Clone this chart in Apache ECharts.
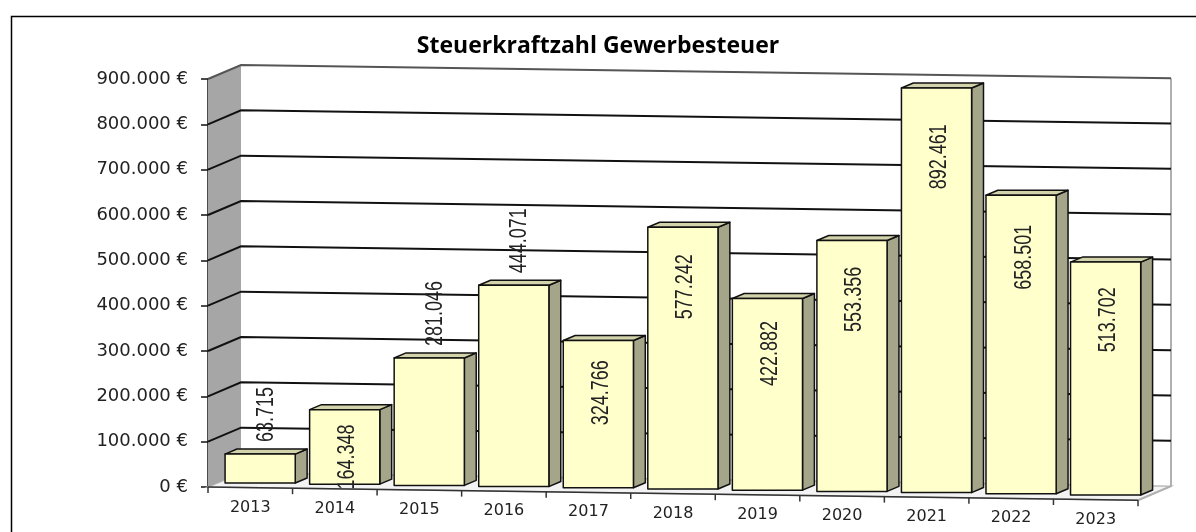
<!DOCTYPE html>
<html>
<head>
<meta charset="utf-8">
<script src="https://cdn.jsdelivr.net/npm/echarts@6/dist/echarts.min.js"></script>
<style>
  html, body { margin: 0; padding: 0; background: #fff; }
  #chart { width: 1196px; height: 532px; }
</style>
</head>
<body>
<div id="chart"></div>
<script>
var years = ['2013', '2014', '2015', '2016', '2017', '2018', '2019', '2020', '2021', '2022', '2023'];
var values = [63715, 164348, 281046, 444071, 324766, 577242, 422882, 553356, 892461, 658501, 513702];
var yTicks = [0, 100000, 200000, 300000, 400000, 500000, 600000, 700000, 800000, 900000];
// labels Excel put above the bar instead of inside it
var labelAbove = [true, false, true, true, false, false, false, false, false, false, false];

// fake 3D: depth vector of the walls and a slight slope to the right
var DX = 33, DY = -14, SLOPE = 0.0142;
var BAR_D0 = 0.33, BAR_D1 = 0.69;

function fmt(v) {
    return String(v).replace(/\B(?=(\d{3})+(?!\d))/g, '.');
}

function renderWall(params, api) {
    var v = api.value(0);
    var band = api.size([1, 0])[0];
    var p0 = api.coord([0, 0]);
    var x0 = p0[0] - band / 2;
    var x1 = x0 + band * years.length;
    var y0 = p0[1];
    var yTop = api.coord([0, yTicks[yTicks.length - 1]])[1];
    var yv = api.coord([0, v])[1];
    function P(x, y, d) { return [x + d * DX, y + d * DY + SLOPE * (x - x0)]; }

    var children = [];
    if (params.dataIndex === 0) {
        children.push({
            type: 'polygon',
            shape: { points: [P(x0, y0, 0), P(x0, y0, 1), P(x1, y0, 1), P(x1, y0, 0)] },
            style: { fill: '#f3f3f3', stroke: '#bdbdbd', lineWidth: 1.5 }
        });
        children.push({
            type: 'polygon',
            shape: { points: [P(x0, yTop, 0), P(x0, yTop, 1), P(x0, y0, 1), P(x0, y0, 0)] },
            style: { fill: '#a6a6a6', stroke: null }
        });
        children.push({
            type: 'polyline',
            shape: { points: [P(x1, yTop, 1), P(x1, y0, 1), P(x1, y0, 0)] },
            style: { fill: null, stroke: '#b0b0b0', lineWidth: 2 }
        });
        children.push({
            type: 'polyline',
            shape: { points: [P(x0, y0, 0), P(x1, y0, 0)] },
            style: { fill: null, stroke: '#333', lineWidth: 1.5 }
        });
        for (var k = 0; k <= years.length; k++) {
            var t = P(x0 + band * k, y0, 0);
            children.push({
                type: 'line',
                shape: { x1: t[0], y1: t[1], x2: t[0], y2: t[1] + 6 },
                style: { stroke: '#333', lineWidth: 1.5 }
            });
        }
    } else {
        var top = params.dataIndex === yTicks.length - 1;
        children.push({
            type: 'polyline',
            shape: { points: [P(x0, yv, 0), P(x0, yv, 1), P(x1, yv, 1)] },
            style: { fill: null, stroke: top ? '#555' : '#111', lineWidth: 2 }
        });
    }
    return { type: 'group', children: children };
}

function renderBar(params, api) {
    var i = api.value(0);
    var v = api.value(1);
    var band = api.size([1, 0])[0];
    var pc = api.coord([i, v]);
    var pb = api.coord([i, 0]);
    var x0 = api.coord([0, 0])[0] - band / 2;
    var cx = pc[0];
    var s = SLOPE * (cx - x0);
    var w = band * 0.83;
    var xl = cx - w / 2 - 1, xr = xl + w;
    var yt = pc[1], yb = pb[1];
    function Q(x, y, d) { return [x + d * DX, y + d * DY + s]; }
    var line = { stroke: '#111', lineWidth: 1.5, lineJoin: 'round' };

    var front = [Q(xl, yt, BAR_D0), Q(xr, yt, BAR_D0), Q(xr, yb, BAR_D0), Q(xl, yb, BAR_D0)];
    var topF = [Q(xl, yt, BAR_D0), Q(xl, yt, BAR_D1), Q(xr, yt, BAR_D1), Q(xr, yt, BAR_D0)];
    var side = [Q(xr, yt, BAR_D0), Q(xr, yt, BAR_D1), Q(xr, yb, BAR_D1), Q(xr, yb, BAR_D0)];

    var ft = front[0][1];
    var h = yb - yt;
    var above = labelAbove[params.dataIndex];
    var lx = (front[0][0] + front[1][0]) / 2 + (above ? 6 : 3);
    var ly = above ? ft - 12 : ft + 10 + 0.065 * h;

    return {
        type: 'group',
        children: [
            { type: 'polygon', shape: { points: side }, style: Object.assign({ fill: '#a5a58a' }, line) },
            { type: 'polygon', shape: { points: topF }, style: Object.assign({ fill: '#d2d2ab' }, line) },
            { type: 'polygon', shape: { points: front }, style: Object.assign({ fill: '#ffffcc' }, line) },
            {
                type: 'text',
                x: lx, y: ly,
                rotation: Math.PI / 2,
                scaleY: 1.3,
                z2: 10,
                style: {
                    text: fmt(v),
                    fill: '#222',
                    font: '18px "Liberation Sans"',
                    align: above ? 'left' : 'right',
                    verticalAlign: 'middle'
                }
            }
        ]
    };
}

var chart = echarts.init(document.getElementById('chart'), null, { renderer: 'canvas' });

var labelRich = {};
for (var r = 0; r < years.length; r++) {
    labelRich['y' + r] = {
        fontFamily: 'DejaVu Sans',
        fontSize: 16,
        color: '#222',
        padding: [Math.round(1.2 * (r + 0.5)) + 1, 0, 0, 0]
    };
}

chart.setOption({
    backgroundColor: '#fff',
    animation: false,
    title: {
        text: 'Steuerkraftzahl Gewerbesteuer',
        left: 'center',
        top: 30,
        textStyle: {
            fontFamily: 'Open Sans',
            fontWeight: 'bold',
            fontSize: 23,
            color: '#000'
        }
    },
    graphic: [{
        type: 'rect',
        left: 9, top: 14,
        shape: { width: 1300, height: 700 },
        style: { fill: null, stroke: '#000', lineWidth: 1.5 },
        silent: true
    }],
    grid: { left: 208, right: 58, top: 79, bottom: 45 },
    xAxis: {
        type: 'category',
        data: years,
        axisLine: { show: false },
        axisTick: { show: false },
        splitLine: { show: false },
        axisLabel: {
            margin: 11,
            formatter: function (val, idx) { return '{y' + idx + '|' + val + '}'; },
            rich: labelRich
        }
    },
    yAxis: {
        type: 'value',
        min: 0,
        max: 900000,
        interval: 100000,
        axisLine: { show: true, lineStyle: { color: '#111', width: 1.5 } },
        axisTick: { show: true, length: 7, lineStyle: { color: '#111', width: 1.5 } },
        splitLine: { show: false },
        axisLabel: {
            margin: 20,
            fontFamily: 'DejaVu Sans',
            fontSize: 18,
            color: '#222',
            formatter: function (v) { return fmt(v) + ' €'; }
        }
    },
    series: [
        {
            name: 'walls',
            type: 'custom',
            renderItem: renderWall,
            data: yTicks.map(function (t) { return [t]; }),
            encode: { y: 0 },
            silent: true,
            z: 1
        },
        {
            name: 'Steuerkraftzahl',
            type: 'custom',
            renderItem: renderBar,
            data: values.map(function (v, i) { return [i, v]; }),
            encode: { x: 0, y: 1 },
            z: 3
        }
    ]
});
</script>
</body>
</html>
